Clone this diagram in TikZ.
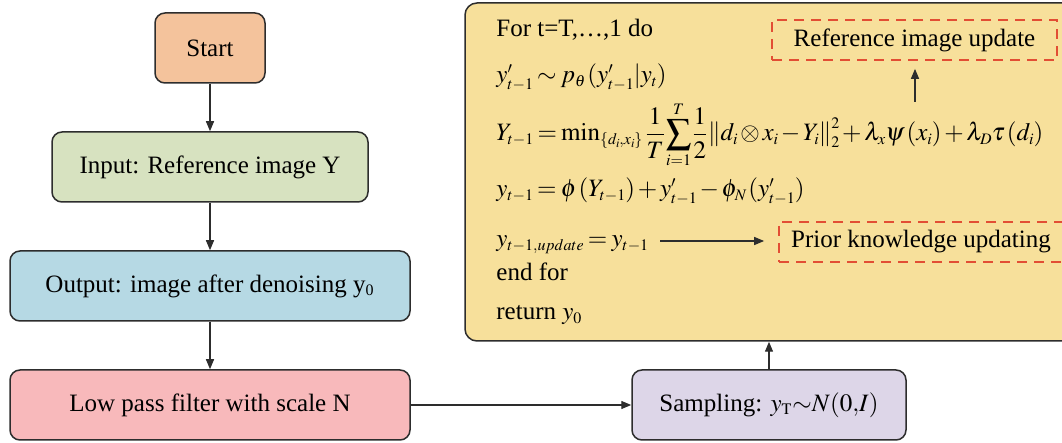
\documentclass[tikz,border=0pt]{standalone}
\usepackage{mathptmx}
\usepackage{fontspec}
\setmainfont{Liberation Serif}
\usetikzlibrary{arrows.meta,calc}
\DeclareMathSizes{12.5}{12.5}{8}{6.2}

\definecolor{cstart}{RGB}{244,195,156}
\definecolor{cinput}{RGB}{215,226,192}
\definecolor{coutput}{RGB}{182,217,228}
\definecolor{clow}{RGB}{248,185,187}
\definecolor{csamp}{RGB}{221,214,232}
\definecolor{calgo}{RGB}{247,224,155}
\definecolor{cdash}{RGB}{226,78,52}
\definecolor{cedge}{RGB}{45,45,45}

% compact math spacing for the loop body
\newcommand{\tightmath}{\thickmuskip=3mu\medmuskip=2mu\thinmuskip=1.5mu\nulldelimiterspace=0pt\scriptspace=0pt}

\tikzset{
  flowbox/.style={draw=cedge, line width=0.75pt, rounded corners=5pt,
    minimum height=35pt, inner sep=0pt, align=center,
    font=\fontsize{12.5}{15}\selectfont},
  notebox/.style={draw=cdash, line width=0.85pt, dash pattern=on 5pt off 3.5pt,
    minimum height=20pt, inner sep=0pt, font=\fontsize{12.5}{15}\selectfont},
  algoline/.style={anchor=base west, inner sep=0pt, font=\fontsize{12.5}{15}\selectfont\tightmath},
  flowarrow/.style={draw=cedge, line width=0.65pt, -{Triangle[length=5pt,width=4pt]}},
}

\begin{document}
\begin{tikzpicture}[x=0.5pt, y=-0.5pt]
\clip (0,0) rectangle (1062,443);
\useasboundingbox (0,0) rectangle (1062,443);

% left column of the flow chart
\node[flowbox, fill=cstart, minimum width=55pt] (start) at (210,48) {Start};
\node[flowbox, fill=cinput, minimum width=158pt] (input) at (210,167) {Input: Reference image Y};
\node[flowbox, fill=coutput, minimum width=200pt] (output) at (210,286) {Output: image after denoising y\textsubscript{0}};
\node[flowbox, fill=clow, minimum width=200pt] (low) at (210,405) {Low pass filter with scale N};
\node[flowbox, fill=csamp, minimum width=137pt] (samp) at (769,405) {Sampling: $y_{\mathrm{T}}{\sim}N(0{,}I)$};

% sampling loop
\node[draw=cedge, line width=0.75pt, rounded corners=6pt, fill=calgo,
      minimum width=305pt, minimum height=169pt, inner sep=0pt] (algo) at (770,172) {};

\node[algoline] (l1) at (496,37) {For t=T,\ldots,1 do};
\node[algoline] (l2) at (496,83) {$y'_{t-1}\sim p_\theta\left(y'_{t-1}\middle|y_t\right)$};
\node[algoline] (l3) at (496,141) {$\displaystyle Y_{t-1}=\min\nolimits_{\{d_i,x_i\}}\,\frac{1}{T}\sum_{i=1}^{T}\frac{1}{2}\left\|d_i\otimes x_i-Y_i\right\|_2^2+\lambda_x\psi\left(x_i\right)+\lambda_D\tau\left(d_i\right)$};
\node[algoline] (l4) at (496,197) {$y_{t-1}=\phi\left(Y_{t-1}\right)+y'_{t-1}-\phi_N\left(y'_{t-1}\right)$};
\node[algoline] (l5) at (496,247) {$y_{t-1,update}=y_{t-1}$};
\node[algoline] (l6) at (496,281) {end for};
\node[algoline] (l7) at (496,320) {return $y_0$};

\node[notebox, minimum width=142.5pt] (refup) at (914.5,40) {Reference image update};
\node[notebox, minimum width=142pt] (prior) at (921,242) {Prior knowledge updating};

\coordinate (upfrom) at (915,102);
\coordinate (rightfrom) at (660,241);

% connectors
\draw[flowarrow] (start) -- (input);
\draw[flowarrow] (input) -- (output);
\draw[flowarrow] (output) -- (low);
\draw[flowarrow] (low) -- (samp);
\draw[flowarrow] (samp.north) -- (samp.north |- algo.south);
\draw[flowarrow, shorten >=4pt] (upfrom) -- (upfrom |- refup.south);
\draw[flowarrow, shorten >=7pt] (rightfrom) -- (rightfrom -| prior.west);
\end{tikzpicture}
\end{document}
